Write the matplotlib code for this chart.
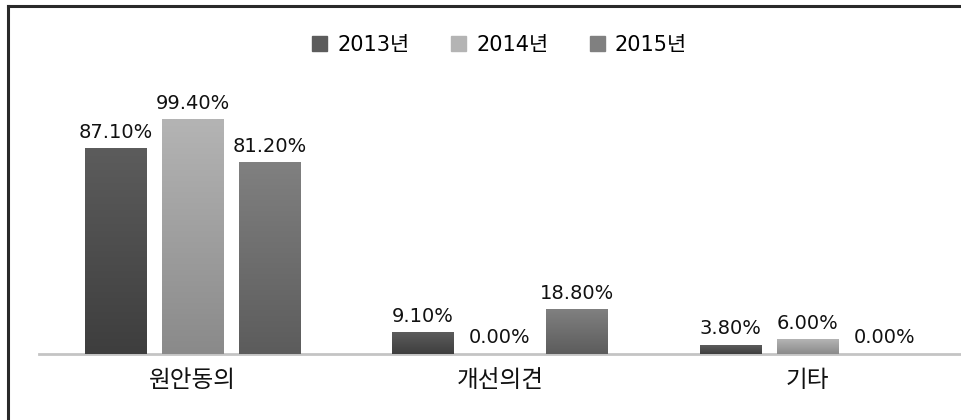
import matplotlib
matplotlib.use("Agg")
import matplotlib.pyplot as plt
from matplotlib.lines import Line2D
from matplotlib.patches import Rectangle
import numpy as np

plt.rcParams['font.family'] = ['DejaVu Sans', 'Noto Sans CJK KR']

# 데이터
categories = ['원안동의', '개선의견', '기타']
years = ['2013년', '2014년', '2015년']
v2013 = [87.1, 9.1, 3.8]
v2014 = [99.4, 0.0, 6.0]
v2015 = [81.2, 18.8, 0.0]

series = [v2013, v2014, v2015]
# (위쪽 색, 아래쪽 색)
grads = [('#5c5c5c', '#3e3e3e'), ('#b4b4b4', '#8a8a8a'), ('#808080', '#5c5c5c')]

fig = plt.figure(figsize=(9.61, 4.20), dpi=100)
ax = fig.add_axes([0.0406, 0.157, 0.9594, 0.617])

x = np.arange(len(categories))
width = 0.2
offsets = [-0.25, 0.0, 0.25]

for vals, off, (ctop, cbot), name in zip(series, offsets, grads, years):
    bars = ax.bar(x + off, vals, width, color=cbot, label=name, zorder=2)
    cmap = matplotlib.colors.LinearSegmentedColormap.from_list('g', [cbot, ctop])
    for b, v in zip(bars, vals):
        if v > 0:
            grad = np.linspace(0, 1, 100).reshape(-1, 1)
            ax.imshow(grad, cmap=cmap, aspect='auto', zorder=3, origin='lower',
                      extent=(b.get_x(), b.get_x() + b.get_width(), 0, b.get_height()))
        ax.annotate(f'{v:.2f}%', (b.get_x() + b.get_width() / 2, v),
                    xytext=(0, 5), textcoords='offset points',
                    ha='center', va='bottom', fontsize=14, color='#111111')

ax.set_xlim(-0.5, 2.5)
ax.set_ylim(0, 110)
ax.set_xticks(x)
ax.set_xticklabels(categories, fontsize=17, color='#111111')
ax.tick_params(axis='x', length=0, pad=10)
ax.set_yticks([])
for s in ['top', 'right', 'left']:
    ax.spines[s].set_visible(False)
ax.spines['bottom'].set_color('#c4c4c4')
ax.spines['bottom'].set_linewidth(2)

handles = [Rectangle((0, 0), 1, 1, color=g[0]) for g in grads]
fig.legend(handles, years, loc='center', bbox_to_anchor=(0.52, 0.893), ncol=3,
           frameon=False, fontsize=15, handlelength=0.7, handleheight=0.7,
           handletextpad=0.5, columnspacing=2.0)

# 테두리 (위, 왼쪽)
fig.add_artist(Line2D([8 / 961, 8 / 961], [0, 1 - 6 / 420], color='#2a2a2a', lw=2.2))
fig.add_artist(Line2D([8 / 961, 1], [1 - 6 / 420, 1 - 6 / 420], color='#2a2a2a', lw=2.2))

fig.savefig('out.png', dpi=100)
